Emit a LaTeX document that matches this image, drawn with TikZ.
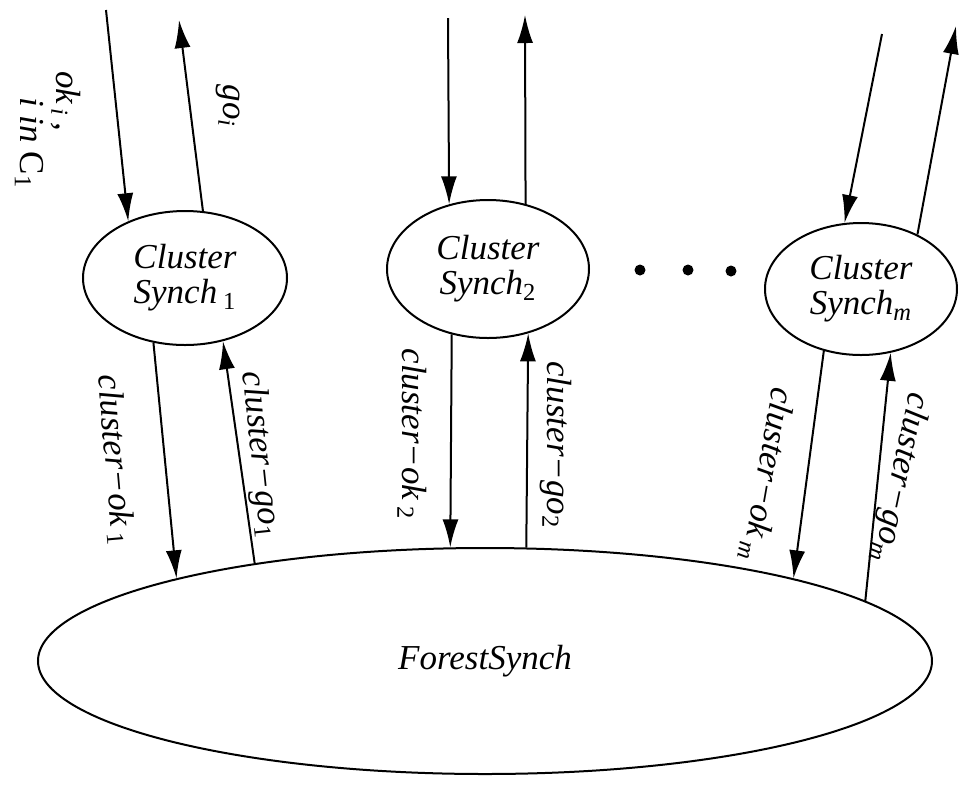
\documentclass[tikz,border=0pt]{standalone}
\usepackage{fontspec}
\setmainfont{Liberation Serif}[ItalicFont={Liberation Serif Italic}]
\newfontfamily\lblfont{Liberation Serif Italic}
\usetikzlibrary{arrows.meta,shapes.geometric}
\begin{document}
\begin{tikzpicture}[x=0.5pt,y=-0.5pt,
  every node/.style={font=\fontsize{17.5}{17.5}\selectfont\lblfont},
  bubble/.style={draw, ellipse, line width=1pt, inner sep=0pt, align=center},
  conn/.style={line width=1pt, -{Latex[length=14pt,width=8pt]}},
  lbl/.style={inner sep=0pt},
  dot/.style={circle, fill, inner sep=0pt, minimum size=5.5pt}]
\useasboundingbox (0,0) rectangle (960,784);

% nodes
\node[bubble, minimum width=102pt, minimum height=67pt] (c1) at (185,278) {Cluster\\Synch\,\textsubscript{\rmfamily 1}};
\node[bubble, minimum width=101pt, minimum height=69pt] (c2) at (488,269) {Cluster\\Synch\textsubscript{\rmfamily 2}};
\node[bubble, minimum width=96pt, minimum height=66pt] (cm) at (861,289) {Cluster\\Synch\textsubscript{m}};
\node[bubble, minimum width=447pt, minimum height=113pt] (f) at (485,661) {ForestSynch};

\node[dot] (d1) at (640,270) {};
\node[dot] (d2) at (688,270) {};
\node[dot] (d3) at (731,271) {};

% free ends
\coordinate (o1) at (106,10);
\coordinate (g1) at (179,20);
\coordinate (o2) at (448,18);
\coordinate (g2) at (525,15);
\coordinate (om) at (882,34);
\coordinate (gm) at (956,26);

% top connectors
\draw[conn] (o1) -- (c1.135.5);
\draw[conn] (c1.75.8) -- (g1);
\draw[conn] (o2) -- (c2.121);
\draw[conn] (c2.60.7) -- (g2);
\draw[conn] (om) -- (cm.104.9);
\draw[conn] (cm.44) -- (gm);

% lower connectors
\draw[conn] (c1.-116.6) -- (f.165.5);
\draw[conn] (f.157.5) -- (c1.-59.5);
\draw[conn] (c2.-119.8) -- (f.107.7);
\draw[conn] (f.70) -- (c2.-58.8);
\draw[conn] (cm.-121.8) -- (f.15.7);
\draw[conn] (f.9.9) -- (cm.-65.7);

% labels
\node[lbl, rotate=-90] (lok) at (66,101) {ok\textsubscript{\,i}\,,};
\node[lbl, rotate=-90] (lin) at (29,143) {i in {\rmfamily C}\textsubscript{\rmfamily 1}};
\node[lbl, rotate=-90] (lgo) at (228,106) {go\textsubscript{i}};

\node[lbl, rotate=-85] (lok1) at (115,460) {cluster−ok\,\textsubscript{\rmfamily 1}};
\node[lbl, rotate=-84] (lgo1) at (260,455) {cluster−go\textsubscript{\rmfamily 1}};
\node[lbl, rotate=-90] (lok2) at (412,434) {cluster−ok\,\textsubscript{\rmfamily 2}};
\node[lbl, rotate=-90] (lgo2) at (556,445) {cluster−go\textsubscript{\rmfamily 2}};
\node[lbl, rotate=-100] (lokm) at (767,475) {cluster−ok\,\textsubscript{m}};
\node[lbl, rotate=-102] (lgom) at (900,478) {cluster−go\textsubscript{m}};
\end{tikzpicture}
\end{document}
